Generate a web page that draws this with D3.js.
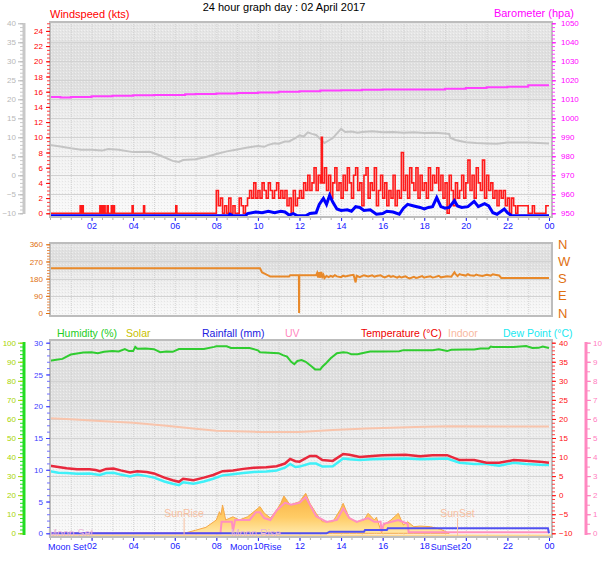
<!DOCTYPE html>
<html><head><meta charset="utf-8">
<script src="https://cdn.jsdelivr.net/npm/d3@7"></script>
<style>
body{margin:0;background:#fff}
svg{display:block}
text{font-family:"Liberation Sans",Arial,sans-serif}
</style>
</head><body>
<svg id="c" width="608" height="561"></svg>
<script>
// ---------------- DATA ----------------
const titleText = "24 hour graph day : 02 April 2017";
const hourTicks = [2,4,6,8,10,12,14,16,18,20,22,24];
const windTicks = [0,2,4,6,8,10,12,14,16,18,20,22,24];
const greyTicks = [-10,-5,0,5,10,15,20,25,30,35,40];
const baroTicks = [950,960,970,980,990,1000,1010,1020,1030,1040,1050];
const dirTicks = [0,90,180,270,360];
const dirLetters = ["N","E","S","W","N"];
const humTicks = [0,10,20,30,40,50,60,70,80,90,100];
const rainTicks = [0,5,10,15,20,25,30];
const tempTicks = [-10,-5,0,5,10,15,20,25,30,35,40];
const uvTicks = [0,1,2,3,4,5,6,7,8,9,10];

// barometer (hPa)
const barometer = [[0,1011.2],[0.5,1011.0],[1,1011.2],[2,1011.6],[3,1011.9],[4,1012.1],[5,1012.2],[6,1012.3],[6.5,1012.7],[7,1012.8],[8,1013.0],[9,1013.3],[10,1013.6],[11,1014.0],[12,1014.3],[13,1014.6],[14,1014.8],[15,1015.0],[16,1015.2],[17,1015.1],[18,1015.1],[19,1015.6],[20,1015.9],[21,1016.3],[22,1016.6],[23,1017.4],[24,1017.4]];
// grey line (wind chill, °C)
const windChill = [[0,8.0],[0.5,7.6],[1.0,7.1],[1.5,6.7],[2.0,6.7],[2.5,6.5],[2.8,6.9],[3.3,6.7],[4.0,6.1],[4.8,6.2],[5.3,5.2],[5.9,3.8],[6.2,3.5],[6.4,4.0],[7.0,4.2],[7.5,4.8],[8.0,5.6],[8.5,6.3],[9.0,6.8],[9.5,7.3],[10.0,7.7],[10.3,7.5],[10.5,8.0],[10.8,8.4],[11.0,8.3],[11.3,8.9],[11.5,8.9],[11.8,9.8],[12.0,10.5],[12.2,10.2],[12.4,11.3],[12.6,10.9],[12.8,10.6],[13.2,8.5],[13.6,9.8],[14.0,12.2],[14.2,11.4],[14.5,11.5],[14.8,11.2],[15.0,11.4],[15.5,11.6],[16.0,11.3],[16.5,11.4],[17.0,11.2],[17.5,11.3],[18.0,11.1],[18.5,11.2],[19.0,11.0],[19.2,10.9],[19.25,9.9],[19.5,9.3],[20.0,8.7],[20.5,8.5],[21.0,8.4],[21.5,8.3],[22.0,8.6],[23.0,8.6],[23.5,8.5],[24.0,8.4]];
// wind gust (kts)
const windGust = [[0,0],[1.45,1],[1.5,0],[1.55,1],[1.6,0],[2.4,1],[2.45,0],[2.5,1],[2.55,0],[2.6,1],[2.65,0],[2.75,1],[2.8,0],[2.95,1],[3.0,0],[3.05,1],[3.1,0],[3.95,1],[4.0,0],[4.5,1],[4.55,0],[6.05,1],[6.1,0],[7.9,0],
[8.0,3],[8.1,1],[8.2,2],[8.3,0],[8.4,1],[8.5,0],[8.6,2],[8.7,0],[8.8,1],[8.9,0],[9.0,0],[9.1,2],[9.2,1],[9.3,0],[9.4,1],[9.5,2],[9.6,3],[9.7,2],[9.8,4],[9.9,2],
[10.0,3],[10.1,2],[10.2,4],[10.3,3],[10.4,2],[10.5,4],[10.6,3],[10.7,2],[10.8,3],[10.9,4],[11.0,2],[11.1,3],[11.2,2],[11.3,3],[11.4,1],[11.5,2],[11.6,0],[11.7,3],[11.8,1],[11.9,2],
[12.0,3],[12.1,2],[12.2,4],[12.3,3],[12.4,5],[12.5,3],[12.6,4],[12.7,6],[12.8,3],[12.9,5],[13.0,4],[13.05,10],[13.1,4],[13.2,6],[13.3,3],[13.4,5],[13.5,2],[13.6,4],[13.7,6],[13.8,3],[13.9,4],
[14.0,2],[14.1,5],[14.2,3],[14.3,6],[14.4,4],[14.5,2],[14.6,5],[14.7,6],[14.8,3],[14.9,4],[15.0,1],[15.1,5],[15.2,6],[15.3,2],[15.4,4],[15.5,3],[15.6,6],[15.7,1],[15.8,3],[15.9,5],
[16.0,2],[16.1,4],[16.2,1],[16.3,3],[16.4,2],[16.5,5],[16.6,1],[16.7,3],[16.8,2],[16.9,8],[17.0,3],[17.1,5],[17.2,2],[17.3,6],[17.4,4],[17.5,3],[17.6,6],[17.7,2],[17.8,5],[17.9,3],
[18.0,4],[18.1,2],[18.2,6],[18.3,3],[18.4,5],[18.5,4],[18.6,6],[18.7,3],[18.8,5],[18.9,2],[19.0,4],[19.1,0],[19.2,5],[19.3,3],[19.4,1],[19.5,4],[19.6,2],[19.7,3],[19.8,5],[19.9,2],
[20.0,4],[20.1,7],[20.2,3],[20.3,5],[20.4,2],[20.5,6],[20.6,4],[20.7,3],[20.8,7],[20.9,2],[21.0,5],[21.1,3],[21.2,4],[21.3,2],[21.4,3],[21.5,1],[21.6,3],[21.7,2],[21.8,3],[21.9,1],
[22.0,2],[22.1,0],[22.2,2],[22.3,1],[22.4,0],[22.5,1],[23.0,0],[23.2,1],[23.3,0],[23.85,1],[24.0,1]];
// average wind (kts)
const windAvg = [[0,0],[8.6,0],[8.65,0.2],[8.8,0],[9.4,0],[9.5,0.3],[9.9,0.5],[10.2,0.4],[10.5,0.6],[10.8,0.4],[11.1,0.6],[11.3,0.5],[11.5,0.1],[11.7,0.3],[11.9,0],[12.3,0],[12.5,0.3],[12.8,0.4],[12.95,1.5],[13.15,2.3],[13.3,1.5],[13.45,2.7],[13.6,1.8],[13.8,0.9],[14.0,0.7],[14.3,0.8],[14.5,0.6],[14.7,1.2],[14.9,1.1],[15.1,0.7],[15.4,0.8],[15.7,0.2],[16.0,0.3],[16.2,0.6],[16.5,0.5],[16.8,0.2],[17.0,1.0],[17.2,1.5],[17.5,1.3],[17.8,1.1],[18.0,0.9],[18.2,1.1],[18.4,1.2],[18.6,2.4],[18.8,1.2],[19.0,1.0],[19.2,1.1],[19.45,2.0],[19.6,1.3],[19.8,1.1],[20.1,1.2],[20.4,1.9],[20.6,1.2],[20.9,1.6],[21.1,1.3],[21.3,0.4],[21.5,0.2],[21.85,0.9],[22.0,0.4],[22.2,0],[24,0]];
// wind direction (deg)
const windDir = [[0,234],[10.1,234],[10.2,212],[10.3,208],[10.6,191],[11.5,191],[11.55,198],[11.97,198],[11.98,0],[11.99,198],[12.8,198],[12.85,210],[12.9,186],[12.95,214],[13.0,185],[13.05,215],[13.1,190],[13.15,200],[13.2,183],[13.3,194],[13.4,188],[13.5,195],[13.6,190],[13.7,198],[13.8,192],[14.0,188],[14.1,196],[14.2,192],[14.4,196],[14.6,200],[14.7,160],[14.75,195],[14.9,188],[15.0,193],[15.1,198],[15.3,191],[15.5,197],[15.6,190],[15.7,194],[15.9,198],[16.0,191],[16.1,186],[16.3,196],[16.4,189],[16.5,193],[16.7,185],[16.8,192],[16.9,186],[17.1,192],[17.2,185],[17.3,181],[17.5,190],[17.6,184],[17.7,186],[17.9,193],[18.0,185],[18.1,189],[18.3,192],[18.4,186],[18.5,188],[18.7,195],[18.8,187],[18.9,189],[19.1,193],[19.3,190],[19.45,213],[19.5,205],[19.6,193],[19.7,204],[19.8,200],[20.0,196],[20.1,203],[20.2,198],[20.4,195],[20.5,201],[20.6,198],[20.8,194],[21.0,200],[21.2,196],[21.3,203],[21.4,201],[21.6,197],[21.7,184],[24,184]];
// humidity (%)
const humidity = [[0,90.5],[0.3,91],[0.6,91.5],[0.8,92.7],[1.0,93.8],[1.3,94.3],[1.6,94.8],[2.0,95.0],[2.3,94.5],[2.6,95.2],[3.0,95.6],[3.3,95.4],[3.6,96.7],[3.8,95.6],[4.0,95.6],[4.1,97.8],[4.2,96.8],[4.6,96.9],[5.0,96.6],[5.3,95.0],[5.6,95.4],[5.9,95.2],[6.2,96.7],[6.8,96.7],[7.4,96.7],[7.9,97.8],[8.0,98.1],[8.5,98.1],[8.7,97.2],[9.6,97.2],[10.0,96.0],[10.1,95.0],[11.0,94.5],[11.2,93.5],[11.4,92.7],[11.6,90],[11.75,88.7],[11.9,90.4],[12.1,90.9],[12.3,90.0],[12.6,87.4],[12.75,86.0],[13.0,86.0],[13.1,87.4],[13.3,89.5],[13.5,91.8],[13.8,94.5],[14.1,95.0],[14.3,94.8],[14.5,93.9],[14.8,93.9],[15.0,94.5],[15.4,95.4],[16.0,95.4],[16.8,95.5],[17.0,96.1],[17.8,96.1],[18.4,96.1],[18.7,96.5],[19.1,95.6],[19.3,96.3],[20.0,96.4],[20.4,96.4],[20.7,97.0],[21.1,97.0],[21.2,98.0],[21.3,97.7],[22.3,97.8],[22.9,98.3],[23.2,97.2],[23.5,97.3],[23.7,98.0],[24,97.2]];
// temperature (°C)
const temperature = [[0,7.7],[0.4,7.4],[0.8,7.05],[1.3,6.8],[1.9,6.8],[2.2,6.6],[2.4,6.3],[2.7,6.9],[3.05,7.0],[3.4,6.5],[3.85,5.95],[4.2,6.3],[4.65,6.1],[5.0,5.7],[5.5,4.6],[5.9,3.9],[6.2,3.5],[6.4,4.3],[6.9,3.9],[7.4,4.6],[7.85,5.3],[8.3,6.3],[8.8,6.5],[9.3,6.9],[9.8,7.2],[10.4,7.3],[10.9,7.6],[11.3,8.3],[11.55,9.5],[11.8,8.9],[12.0,8.8],[12.5,10.3],[12.8,10.3],[13.1,9.2],[13.6,9.0],[14.1,10.8],[14.4,10.6],[14.9,10.0],[15.5,10.3],[16.0,10.5],[17.1,10.6],[17.8,10.2],[18.4,10.5],[19.1,10.5],[19.7,9.2],[20.4,9.2],[21.0,8.5],[21.6,8.5],[22.3,9.2],[22.9,9.0],[23.55,8.8],[24,8.5]];
// dew point (°C)
const dewPoint = [[0,6.3],[0.4,5.9],[0.8,5.8],[1.3,5.6],[1.9,5.7],[2.4,5.3],[2.7,5.8],[3.05,5.9],[3.4,5.4],[3.85,4.9],[4.2,5.4],[4.65,5.0],[5.0,4.6],[5.5,3.6],[5.9,3.0],[6.2,2.6],[6.4,3.4],[6.9,3.0],[7.4,3.6],[7.85,4.3],[8.3,5.2],[8.8,5.5],[9.3,5.8],[9.8,6.1],[10.4,6.2],[10.9,6.5],[11.3,7.2],[11.55,8.2],[11.8,7.4],[12.0,7.5],[12.5,8.3],[12.8,8.3],[13.1,7.5],[13.6,7.6],[14.1,9.6],[14.4,9.4],[14.9,9.2],[15.5,9.4],[16.0,9.5],[17.1,9.6],[17.8,9.4],[18.4,9.5],[19.1,9.6],[19.7,8.5],[20.4,8.2],[21.0,8.2],[21.6,7.7],[22.3,8.5],[22.9,8.2],[23.55,8.0],[24,7.9]];
// indoor temperature (°C)
const indoor = [[0,20.2],[1,19.9],[2.4,19.45],[4,19.0],[5.6,18.2],[7,17.4],[8,16.9],[10,16.6],[12,16.6],[13.6,17.1],[15.2,17.5],[17.6,17.9],[19.2,18.1],[21.6,18.0],[24,18.0]];
// rainfall (mm)
const rainfall = [[0,0],[13.3,0],[13.45,0.25],[15.1,0.25],[15.15,0.5],[16.2,0.5],[16.25,0.8],[23.95,0.8],[24,0]];
// UV index
const uvIndex = [[0,0],[8.2,0],[8.25,0.6],[8.75,0.6],[8.8,0.1],[8.9,0.7],[9.6,0.7],[9.9,1.1],[10.1,1.1],[10.3,0.8],[10.6,0.7],[10.9,1.2],[11.1,1.4],[11.3,1.6],[11.6,1.5],[12.0,1.6],[12.3,1.9],[12.5,1.5],[12.8,0.9],[13.3,0.6],[13.8,0.7],[14.1,1.3],[14.4,0.8],[14.75,0.6],[15.3,0.8],[15.6,0.6],[15.9,0.6],[15.95,0.1],[16.05,0.5],[16.75,0.7],[17.2,0.5],[17.25,0.05],[24,0.05]];
// solar radiation (W/m²)
const solar = [[6.45,0],[7.0,24],[7.5,47],[8.0,105],[8.15,170],[8.22,144],[8.3,223],[8.45,105],[8.8,130],[9.1,105],[9.5,130],[9.9,183],[10.1,210],[10.3,160],[10.6,120],[10.9,183],[11.1,236],[11.25,294],[11.55,223],[12.0,249],[12.3,315],[12.5,236],[12.8,157],[13.1,91],[13.6,91],[13.95,183],[14.1,236],[14.4,118],[14.75,91],[15.1,105],[15.3,157],[15.6,105],[15.7,126],[15.95,5],[16.05,65],[16.4,105],[16.75,157],[17.0,65],[17.2,91],[17.5,52],[17.8,57],[18.3,52],[18.8,31],[19.2,0]];
// astronomical events (hour, label)
const sunEvents = [[6.45,"SunRise"],[19.6,"SunSet"]];
const moonEvents = [[1.0,"Moon Set"],[9.9,"Moon Rise"]];

// ---------------- DRAW ----------------
const svg = d3.select("#c");
const defs = svg.append("defs");
const FONT = '"Liberation Sans",Arial,sans-serif';

const P = {
  top: {x0:50, x1:552, y0:22, y1:217},
  mid: {x0:50, x1:552, y0:243, y1:316},
  bot: {x0:50, x1:552, y0:340, y1:537}
};
const x = d3.scaleLinear().domain([0,24]).range([50,549]);

const yGrey = d3.scaleLinear().domain([-10,40]).range([213.3,23.3]);
const yWind = d3.scaleLinear().domain([0,25]).range([213.3,23.3]);
const yAvg  = d3.scaleLinear().domain([0,25]).range([215.8,25.8]);
const yBaro = d3.scaleLinear().domain([950,1050]).range([213.3,23.3]);
const yDir = d3.scaleLinear().domain([0,360]).range([313,244.3]);
const yHum = d3.scaleLinear().domain([0,100]).range([533.3,342.7]);
const yRain = d3.scaleLinear().domain([0,30]).range([533.3,342.7]);
const yTemp = d3.scaleLinear().domain([-10,40]).range([533.3,342.7]);
const yUV = d3.scaleLinear().domain([0,10]).range([533.3,342.7]);
const ySolar = d3.scaleLinear().domain([0,1500]).range([533.3,342.7]);

const bg = defs.append("linearGradient").attr("id","bg").attr("x1",0).attr("y1",0).attr("x2",0).attr("y2",1);
[[0,"#e7e7e7"],[0.09,"#e4e4e4"],[0.12,"#dfdfdf"],[0.36,"#e0e0e0"],[0.42,"#eaeaea"],[1,"#f9f9f9"]].forEach(s=>bg.append("stop").attr("offset",s[0]).attr("stop-color",s[1]));
const sg = defs.append("linearGradient").attr("id","solarg").attr("x1",0).attr("y1",0).attr("x2",0).attr("y2",1);
[[0,"#f8b040"],[0.6,"#ffcc66"],[1,"#ffe8a8"]].forEach(s=>sg.append("stop").attr("offset",s[0]).attr("stop-color",s[1]));
const pat = defs.append("pattern").attr("id","dots").attr("width",3).attr("height",3).attr("patternUnits","userSpaceOnUse");
pat.append("rect").attr("x",0).attr("y",0).attr("width",1).attr("height",1).attr("fill","#ffffff").attr("opacity",0.45);
pat.append("rect").attr("x",2).attr("y",1).attr("width",1).attr("height",1).attr("fill","#c8c8c8").attr("opacity",0.35);

function panel(p, key, gridVals, yScale){
  const g = svg.append("g");
  g.append("rect").attr("x",p.x0).attr("y",p.y0).attr("width",p.x1-p.x0).attr("height",p.y1-p.y0).attr("fill","url(#bg)");
  g.append("rect").attr("x",p.x0).attr("y",p.y0).attr("width",p.x1-p.x0).attr("height",p.y1-p.y0).attr("fill","url(#dots)");
  g.selectAll(".vg").data(d3.range(1,24)).enter().append("line")
    .attr("x1",d=>x(d)+0.5).attr("x2",d=>x(d)+0.5).attr("y1",p.y0).attr("y2",p.y1)
    .attr("stroke","#d2d2d2").attr("stroke-width",1).attr("stroke-dasharray","1,1");
  g.selectAll(".hg").data(gridVals).enter().append("line")
    .attr("x1",p.x0).attr("x2",p.x1).attr("y1",d=>Math.round(yScale(d))+0.5).attr("y2",d=>Math.round(yScale(d))+0.5)
    .attr("stroke","#d2d2d2").attr("stroke-width",1);
  defs.append("clipPath").attr("id","clip-"+key).append("rect").attr("x",p.x0).attr("y",p.y0-2).attr("width",p.x1-p.x0).attr("height",p.y1-p.y0+2);
}
function border(p){
  svg.append("rect").attr("x",p.x0).attr("y",p.y0).attr("width",p.x1-p.x0).attr("height",p.y1-p.y0)
    .attr("fill","none").attr("stroke","#bdbdbd").attr("stroke-width",2);
}

panel(P.top,"top",[-5,0,5,10,15,20,25,30,35],yGrey);
panel(P.mid,"mid",[90,180,270],yDir);
panel(P.bot,"bot",[-5,0,5,10,15,20,25,30,35],yTemp);

function line(sc, curve){ return d3.line().x(d=>x(d[0])).y(d=>sc(d[1])).curve(curve||d3.curveLinear); }

// ---- top data
const gt = svg.append("g").attr("clip-path","url(#clip-top)");
gt.append("path").datum(windChill).attr("d",line(yGrey)).attr("fill","none").attr("stroke","#c4c4c4").attr("stroke-width",2);
gt.append("path").datum(barometer).attr("d",line(yBaro,d3.curveStepAfter)).attr("fill","none").attr("stroke","#ff40ff").attr("stroke-width",2);
gt.append("path").datum(windGust).attr("d",line(yWind,d3.curveStepAfter)).attr("fill","none").attr("stroke","#ff1a1a").attr("stroke-width",1.6);
gt.append("path").datum(windAvg).attr("d",line(yAvg)).attr("fill","none").attr("stroke","#0000ff").attr("stroke-width",3);

// ---- mid data
const gm = svg.append("g").attr("clip-path","url(#clip-mid)");
gm.append("path").datum(windDir).attr("d",line(yDir)).attr("fill","none").attr("stroke","#e8892a").attr("stroke-width",2);

// ---- bottom data
const gb = svg.append("g").attr("clip-path","url(#clip-bot)");
gb.append("line").attr("x1",P.bot.x0).attr("x2",P.bot.x1).attr("y1",535.5).attr("y2",535.5).attr("stroke","#ffd890").attr("stroke-width",2);
gb.append("path").datum(solar).attr("d",d3.area().x(d=>x(d[0])).y0(ySolar(0)).y1(d=>ySolar(d[1])))
  .attr("fill","url(#solarg)").attr("stroke","#f5a848").attr("stroke-width",1);
gb.append("path").datum(uvIndex).attr("d",line(yUV)).attr("fill","none").attr("stroke","#ff90c0").attr("stroke-width",2);
gb.append("path").datum(rainfall).attr("d",line(yRain)).attr("fill","none").attr("stroke","#5050f0").attr("stroke-width",2);
gb.append("path").datum(indoor).attr("d",line(yTemp)).attr("fill","none").attr("stroke","#f8c4ac").attr("stroke-width",2);
gb.append("path").datum(dewPoint).attr("d",line(yTemp)).attr("fill","none").attr("stroke","#40f0f8").attr("stroke-width",2.5);
gb.append("path").datum(temperature).attr("d",line(yTemp)).attr("fill","none").attr("stroke","#e8283c").attr("stroke-width",2.5);
gb.append("path").datum(humidity).attr("d",line(yHum)).attr("fill","none").attr("stroke","#30cc30").attr("stroke-width",2);
sunEvents.forEach(e=>{
  gb.append("line").attr("x1",x(e[0])).attr("x2",x(e[0])).attr("y1",518).attr("y2",537).attr("stroke","#f8c0a0").attr("stroke-width",1);
  svg.append("text").attr("x",x(e[0])).attr("y",517).attr("text-anchor","middle").attr("fill","#f8c0a0").style("font-size","10.5px").text(e[1]);
});
moonEvents.forEach(e=>{
  svg.append("text").attr("x",x(e[0])).attr("y",537).attr("text-anchor","middle").attr("fill","#e8b8d8").style("font-size","10.5px").text(e[1]);
});

border(P.top); border(P.mid); border(P.bot);

// ---------------- AXES ----------------
function styleAxis(g, color, fs){
  g.select(".domain").remove();
  g.selectAll("line").attr("stroke",color);
  g.selectAll("text").attr("fill",color).style("font-size",fs+"px").style("font-family",FONT);
}
function addAxis(axis, tx, ty, color, fs){
  const g = svg.append("g").attr("transform",`translate(${tx},${ty})`).call(axis);
  styleAxis(g,color,fs); return g;
}
const fmtH = h => h===24 ? "00" : d3.format("02d")(h);
const fmtD = d3.format("d");

svg.append("line").attr("x1",24).attr("x2",24).attr("y1",23).attr("y2",214).attr("stroke","#c8c8c8").attr("stroke-width",3);
addAxis(d3.axisLeft(yGrey).tickValues(d3.range(-10,40.1,1)).tickSize(3).tickFormat(""),23,0,"#c8c8c8",8);
addAxis(d3.axisLeft(yGrey).tickValues(greyTicks).tickSize(5).tickPadding(2).tickFormat(fmtD),23,0,"#b8b8b8",8);
addAxis(d3.axisLeft(yWind).tickValues(d3.range(0,25.1,0.5)).tickSize(3).tickFormat(""),50,0,"#ff4040",8);
addAxis(d3.axisLeft(yWind).tickValues(windTicks).tickSize(4).tickPadding(3).tickFormat(fmtD),50,0,"#ff0000",8);
addAxis(d3.axisRight(yBaro).tickValues(d3.range(950,1050.1,2)).tickSize(3).tickFormat(""),552,0,"#ff40ff",8);
addAxis(d3.axisRight(yBaro).tickValues(baroTicks).tickSize(4).tickPadding(5).tickFormat(fmtD),552,0,"#ff00ff",8);
addAxis(d3.axisBottom(x).tickValues(d3.range(0,24.1,0.5)).tickSize(2).tickFormat(""),0,218,"#b0b0b0",8);
addAxis(d3.axisBottom(x).tickValues(hourTicks).tickSize(3).tickPadding(2).tickFormat(fmtH),0,218,"#2020ff",9);

addAxis(d3.axisLeft(yDir).tickValues(d3.range(0,360.1,15)).tickSize(3).tickFormat(""),50,0,"#e89050",8);
addAxis(d3.axisLeft(yDir).tickValues(dirTicks).tickSize(4).tickPadding(3).tickFormat(fmtD),50,0,"#e07010",8);
svg.append("g").selectAll("text").data(dirTicks).enter().append("text")
  .attr("x",558).attr("y",d=>yDir(d)+4.5).attr("fill","#e07010").style("font-size","13px")
  .text((d,i)=>dirLetters[i]);

svg.append("line").attr("x1",24).attr("x2",24).attr("y1",342).attr("y2",535).attr("stroke","#22dd22").attr("stroke-width",3);
addAxis(d3.axisLeft(yHum).tickValues(d3.range(0,100.1,2)).tickSize(3).tickFormat(""),23,0,"#22dd22",8);
addAxis(d3.axisLeft(yHum).tickValues(humTicks).tickSize(5).tickPadding(2).tickFormat(fmtD),23,0,"#a8d400",8);
addAxis(d3.axisLeft(yRain).tickValues(d3.range(0,30.1,1)).tickSize(3).tickFormat(""),50,0,"#7070ff",8);
addAxis(d3.axisLeft(yRain).tickValues(rainTicks).tickSize(4).tickPadding(3).tickFormat(fmtD),50,0,"#4040ff",8);
addAxis(d3.axisRight(yTemp).tickValues(d3.range(-10,40.1,1)).tickSize(3).tickFormat(""),552,0,"#ff4040",8);
addAxis(d3.axisRight(yTemp).tickValues(tempTicks).tickSize(4).tickPadding(3).tickFormat(fmtD),552,0,"#ff1010",8);
svg.append("line").attr("x1",586).attr("x2",586).attr("y1",342).attr("y2",535).attr("stroke","#ff88c0").attr("stroke-width",3);
addAxis(d3.axisRight(yUV).tickValues(d3.range(0,10.1,0.5)).tickSize(3).tickFormat(""),587,0,"#ff88c0",8);
addAxis(d3.axisRight(yUV).tickValues(uvTicks).tickSize(4).tickPadding(2).tickFormat(fmtD),587,0,"#ff80c0",8);
addAxis(d3.axisBottom(x).tickValues(d3.range(0,24.1,0.5)).tickSize(2).tickFormat(""),0,538,"#b0b0b0",8);
addAxis(d3.axisBottom(x).tickValues(hourTicks).tickSize(3).tickPadding(2).tickFormat(fmtH),0,538,"#2020ff",9);
const evAxis = svg.append("g").attr("fill","#2020ff").style("font-size","9px");
evAxis.append("text").attr("x",x(2)-5).attr("y",550).attr("text-anchor","end").text(moonEvents[0][1]);
const mr = moonEvents[1][1].split(" ");
evAxis.append("text").attr("x",x(10)-5.5).attr("y",550).attr("text-anchor","end").text(mr[0]);
evAxis.append("text").attr("x",x(10)+5.5).attr("y",550).attr("text-anchor","start").text(mr[1]);
evAxis.append("text").attr("x",x(20)-5.5).attr("y",550).attr("text-anchor","end").text(sunEvents[1][1]);

// ---------------- TITLES / LEGENDS ----------------
svg.append("text").attr("x",284).attr("y",11).attr("text-anchor","middle").attr("fill","#000").style("font-size","11px").text(titleText);
svg.append("text").attr("x",50).attr("y",18).attr("fill","#ff0000").style("font-size","11px").text("Windspeed (kts)");
svg.append("text").attr("x",574).attr("y",16.5).attr("text-anchor","end").attr("fill","#ff00ff").style("font-size","11px").text("Barometer (hpa)");
const legend = [["Humidity (%)",57,"#22cc22"],["Solar",126,"#c8c000"],["Rainfall (mm)",202,"#2020e0"],["UV",285,"#ff88c0"],["Temperature (°C)",361,"#ee0000"],["Indoor",448,"#f8b8a0"],["Dew Point (°C)",503,"#20e8f0"]];
svg.append("g").selectAll("text").data(legend).enter().append("text")
  .attr("x",d=>d[1]).attr("y",337).attr("fill",d=>d[2]).style("font-size","10.5px").text(d=>d[0]);
</script>
</body></html>
